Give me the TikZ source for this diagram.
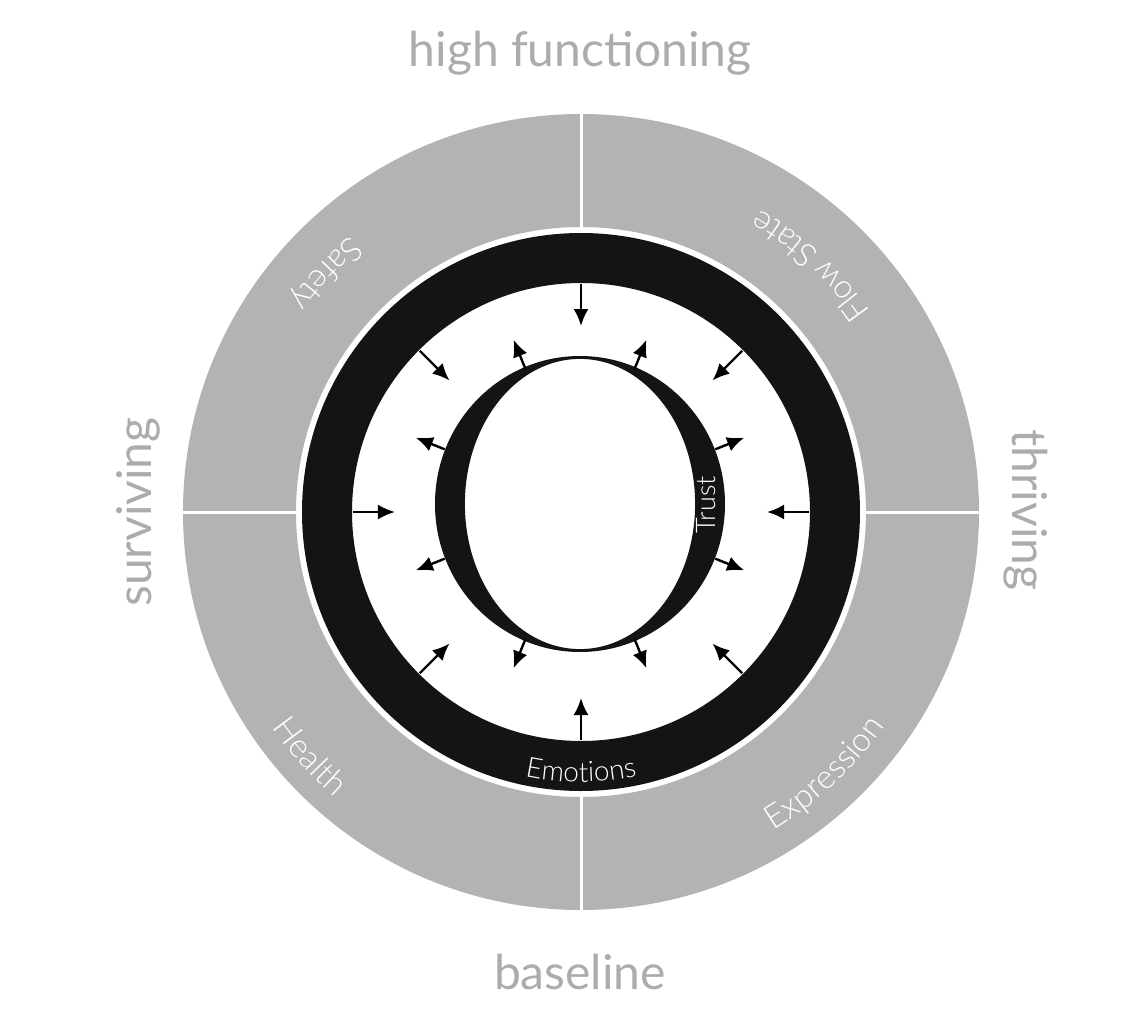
\documentclass[tikz,border=0pt]{standalone}
\usepackage{fontspec}
\setmainfont{Lato}
\newfontfamily\thinfont{Lato Light}
\usepackage{xcolor}
\usepackage{tikz}
\usetikzlibrary{arrows.meta}
\usetikzlibrary{calc}
\usetikzlibrary{decorations.text}
\definecolor{ringgray}{RGB}{179,179,179}
\definecolor{labelgray}{RGB}{172,172,172}
\definecolor{inkblack}{RGB}{20,20,18}

\begin{document}
\begin{tikzpicture}[x=1pt, y=1pt,
  arr/.style={line width=2.4pt, -{Latex[length=17pt, width=15pt]}},
  side label/.style={text=labelgray, font=\fontsize{48}{48}\selectfont},
  ring text/.style={decorate, decoration={text along path, text align=center, text color=white, text={#1}}}]
  \useasboundingbox (-581,-514) rectangle (559,512);
  \coordinate (c) at (0,0);
  \coordinate (moon) at (-1,8);
  % outer quadrants
  \fill[ringgray, even odd rule] (c) circle[radius=398] (c) circle[radius=285];
  \foreach \a in {0,90,180,270}
    \draw[white, line width=3pt] ($(c)+(\a:282)$) -- ($(c)+(\a:401)$);
  \path[ring text={|\thinfont\fontsize{33}{33}\selectfont|Flow State}] ($(c)+(12:352)$) arc[start angle=12, end angle=82, radius=352];
  \path[ring text={|\thinfont\fontsize{33}{33}\selectfont|Safety}] ($(c)+(102:360)$) arc[start angle=102, end angle=172, radius=360];
  \path[ring text={|\thinfont\fontsize{33}{33}\selectfont|Health}] ($(c)+(187:377)$) arc[start angle=187, end angle=257, radius=377];
  \path[ring text={|\thinfont\fontsize{33}{33}\selectfont|Expression}] ($(c)+(278:372)$) arc[start angle=278, end angle=348, radius=372];
  % emotions ring
  \fill[inkblack, even odd rule] (c) circle[radius=279] (c) circle[radius=229];
  \path[ring text={|\thinfont\fontsize{28}{28}\selectfont|Emotions}] ($(c)+(235:270)$) arc[start angle=235, end angle=305, radius=270];
  \foreach \a in {0,45,...,315}
    \draw[arr] ($(c)+(\a:228)$) -- ($(c)+(\a:186)$);
  % trust
  \fill[inkblack] (moon) ellipse[x radius=145, y radius=148];
  \draw[inkblack, line width=1.8pt, fill=white] (moon) ellipse[x radius=116, y radius=146];
  \node[rotate=90, anchor=base, text=white, font=\thinfont\fontsize{27}{27}\selectfont] (trust) at (134,7) {Trust};
  \foreach \a in {22,68,112,158,202,248,292,338}
    \draw[arr] ($(moon)+(\a:146)$) -- ($(moon)+(\a:177)$);
  % sides
  \node[side label, anchor=base] (high) at (-1,445) {high functioning};
  \node[side label, anchor=base] (base) at (-1,-477) {baseline};
  \node[side label, anchor=base, rotate=90] (surv) at (-429,0) {surviving};
  \node[side label, anchor=base, rotate=-90] (thri) at (431,2) {thriving};
\end{tikzpicture}
\end{document}
